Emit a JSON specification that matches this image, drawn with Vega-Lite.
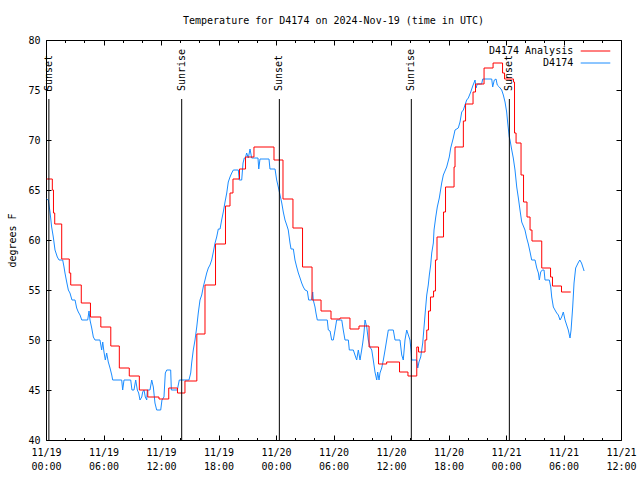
{
  "$schema": "https://vega.github.io/schema/vega-lite/v6.json",
  "width": 575,
  "height": 400,
  "autosize": "none",
  "padding": {"left": 46, "top": 40, "right": 19, "bottom": 40},
  "background": "white",
  "title": {"text": "Temperature for D4174 on 2024-Nov-19 (time in UTC)", "font": "DejaVu Sans Mono", "fontSize": 10, "fontWeight": "normal", "color": "black", "anchor": "middle", "offset": 9},
  "config": {
    "view": {"stroke": "black", "strokeWidth": 1},
    "axis": {"domain": false, "grid": false, "tickColor": "black", "labelColor": "black", "labelFont": "DejaVu Sans Mono", "labelFontSize": 10, "titleFont": "DejaVu Sans Mono", "titleFontSize": 10, "titleFontWeight": "normal", "titleColor": "black", "tickSize": -5}
  },
  "datasets": {
    "obs": [
      {"hour":0.07,"temp":64.1},{"hour":0.24,"temp":64.0},{"hour":0.42,"temp":62.8},{"hour":0.59,"temp":61.3},{"hour":0.76,"temp":60.3},{"hour":0.94,"temp":59.0},{"hour":1.18,"temp":58.3},{"hour":1.36,"temp":58.0},{"hour":1.74,"temp":58.0},{"hour":1.88,"temp":57.3},{"hour":1.98,"temp":56.7},{"hour":2.16,"temp":55.8},{"hour":2.33,"temp":55.0},{"hour":2.5,"temp":54.7},{"hour":2.71,"temp":54.0},{"hour":3.03,"temp":54.0},{"hour":3.2,"temp":53.2},{"hour":3.37,"temp":52.8},{"hour":3.55,"temp":52.5},{"hour":3.73,"temp":52.0},{"hour":4.35,"temp":52.0},{"hour":4.49,"temp":52.9},{"hour":4.59,"temp":52.0},{"hour":4.77,"temp":51.2},{"hour":4.94,"temp":50.3},{"hour":5.11,"temp":50.0},{"hour":5.63,"temp":50.0},{"hour":5.81,"temp":49.0},{"hour":5.92,"temp":49.8},{"hour":6.05,"temp":48.8},{"hour":6.19,"temp":48.0},{"hour":6.33,"temp":48.7},{"hour":6.5,"temp":47.8},{"hour":6.68,"temp":47.2},{"hour":6.86,"temp":46.5},{"hour":6.96,"temp":46.0},{"hour":7.9,"temp":46.0},{"hour":8.0,"temp":45.0},{"hour":8.14,"temp":46.0},{"hour":8.84,"temp":46.0},{"hour":8.97,"temp":45.0},{"hour":9.18,"temp":45.0},{"hour":9.36,"temp":46.0},{"hour":9.53,"temp":45.0},{"hour":9.67,"temp":44.7},{"hour":9.81,"temp":44.0},{"hour":9.99,"temp":44.3},{"hour":10.09,"temp":44.8},{"hour":10.23,"temp":45.0},{"hour":10.36,"temp":44.3},{"hour":10.51,"temp":44.0},{"hour":10.57,"temp":45.0},{"hour":10.85,"temp":45.0},{"hour":11.03,"temp":46.0},{"hour":11.2,"temp":45.3},{"hour":11.37,"temp":43.7},{"hour":11.55,"temp":43.0},{"hour":11.97,"temp":43.0},{"hour":12.1,"temp":44.0},{"hour":12.31,"temp":44.3},{"hour":12.45,"temp":46.7},{"hour":12.6,"temp":47.0},{"hour":13.01,"temp":47.0},{"hour":13.08,"temp":45.0},{"hour":13.7,"temp":45.0},{"hour":13.91,"temp":46.0},{"hour":14.92,"temp":46.0},{"hour":15.1,"temp":46.7},{"hour":15.2,"temp":47.7},{"hour":15.37,"temp":49.0},{"hour":15.55,"temp":50.0},{"hour":15.73,"temp":51.3},{"hour":15.89,"temp":52.7},{"hour":16.07,"temp":54.0},{"hour":16.25,"temp":54.5},{"hour":16.41,"temp":55.3},{"hour":16.59,"temp":56.0},{"hour":16.77,"temp":56.7},{"hour":16.94,"temp":57.2},{"hour":17.11,"temp":57.5},{"hour":17.29,"temp":58.0},{"hour":17.46,"temp":58.8},{"hour":17.64,"temp":59.7},{"hour":17.81,"temp":60.3},{"hour":17.98,"temp":61.1},{"hour":18.16,"temp":61.1},{"hour":18.33,"temp":62.0},{"hour":18.5,"temp":62.8},{"hour":18.68,"temp":63.8},{"hour":18.86,"temp":64.7},{"hour":19.02,"temp":65.8},{"hour":19.2,"temp":66.3},{"hour":19.38,"temp":66.7},{"hour":19.55,"temp":67.0},{"hour":20.07,"temp":67.0},{"hour":20.17,"temp":66.0},{"hour":20.42,"temp":66.0},{"hour":20.56,"temp":67.7},{"hour":20.69,"temp":68.2},{"hour":20.8,"temp":68.2},{"hour":20.94,"temp":68.7},{"hour":21.11,"temp":68.2},{"hour":21.29,"temp":69.1},{"hour":21.46,"temp":68.2},{"hour":21.63,"temp":68.2},{"hour":22.12,"temp":68.2},{"hour":22.2,"temp":67.1},{"hour":22.33,"temp":68.1},{"hour":23.27,"temp":68.1},{"hour":23.37,"temp":67.1},{"hour":23.9,"temp":67.1},{"hour":24.07,"temp":66.0},{"hour":24.24,"temp":65.3},{"hour":24.42,"temp":64.5},{"hour":24.6,"temp":63.7},{"hour":24.76,"temp":62.8},{"hour":24.94,"temp":62.0},{"hour":25.12,"temp":61.5},{"hour":25.28,"temp":61.0},{"hour":25.46,"temp":59.7},{"hour":25.57,"temp":59.1},{"hour":25.81,"temp":59.1},{"hour":25.98,"temp":58.0},{"hour":26.16,"temp":57.3},{"hour":26.33,"temp":56.7},{"hour":26.51,"temp":56.2},{"hour":26.68,"temp":55.7},{"hour":26.85,"temp":55.3},{"hour":27.03,"temp":55.0},{"hour":27.27,"temp":54.9},{"hour":27.41,"temp":54.0},{"hour":27.73,"temp":54.0},{"hour":27.83,"temp":54.8},{"hour":27.89,"temp":54.0},{"hour":28.07,"temp":53.3},{"hour":28.17,"temp":52.7},{"hour":28.31,"temp":52.0},{"hour":29.35,"temp":52.0},{"hour":29.46,"temp":51.0},{"hour":29.64,"temp":50.9},{"hour":29.81,"temp":50.0},{"hour":29.98,"temp":50.0},{"hour":30.16,"temp":51.0},{"hour":30.33,"temp":52.0},{"hour":30.86,"temp":52.0},{"hour":31.02,"temp":51.0},{"hour":31.2,"temp":50.0},{"hour":31.55,"temp":50.0},{"hour":31.65,"temp":49.0},{"hour":32.07,"temp":49.0},{"hour":32.24,"temp":48.5},{"hour":32.42,"temp":48.0},{"hour":32.59,"temp":49.0},{"hour":32.77,"temp":48.0},{"hour":32.94,"temp":49.0},{"hour":33.05,"temp":49.7},{"hour":33.18,"temp":50.7},{"hour":33.29,"temp":52.0},{"hour":33.47,"temp":51.3},{"hour":33.63,"temp":50.0},{"hour":33.81,"temp":49.3},{"hour":33.99,"temp":49.0},{"hour":34.15,"temp":48.0},{"hour":34.33,"temp":46.8},{"hour":34.51,"temp":46.0},{"hour":34.61,"temp":46.8},{"hour":34.75,"temp":46.0},{"hour":34.85,"temp":46.7},{"hour":35.03,"temp":47.2},{"hour":35.2,"temp":48.0},{"hour":35.38,"temp":49.0},{"hour":35.55,"temp":50.0},{"hour":35.72,"temp":51.0},{"hour":36.24,"temp":51.0},{"hour":36.42,"temp":50.0},{"hour":36.94,"temp":50.0},{"hour":37.12,"temp":48.5},{"hour":37.28,"temp":48.0},{"hour":37.46,"temp":50.0},{"hour":37.64,"temp":51.0},{"hour":37.81,"temp":50.5},{"hour":37.98,"temp":50.0},{"hour":38.09,"temp":49.0},{"hour":38.16,"temp":48.0},{"hour":38.68,"temp":48.0},{"hour":38.79,"temp":47.2},{"hour":38.92,"temp":47.8},{"hour":39.1,"temp":48.3},{"hour":39.31,"temp":49.7},{"hour":39.44,"temp":51.2},{"hour":39.62,"temp":53.3},{"hour":39.73,"temp":54.5},{"hour":39.89,"temp":55.5},{"hour":40.0,"temp":56.5},{"hour":40.14,"temp":57.5},{"hour":40.25,"temp":58.7},{"hour":40.42,"temp":59.7},{"hour":40.49,"temp":61.0},{"hour":40.67,"temp":62.3},{"hour":40.83,"temp":63.3},{"hour":41.04,"temp":64.2},{"hour":41.29,"temp":65.7},{"hour":41.46,"temp":66.5},{"hour":41.81,"temp":67.3},{"hour":42.08,"temp":68.3},{"hour":42.23,"temp":69.2},{"hour":42.5,"temp":70.2},{"hour":42.68,"temp":71.0},{"hour":43.02,"temp":71.2},{"hour":43.2,"temp":71.8},{"hour":43.38,"temp":72.8},{"hour":43.55,"temp":73.0},{"hour":43.72,"temp":73.5},{"hour":43.9,"temp":74.0},{"hour":44.07,"temp":74.2},{"hour":44.32,"temp":74.8},{"hour":44.53,"temp":75.4},{"hour":44.77,"temp":76.0},{"hour":44.87,"temp":75.2},{"hour":45.01,"temp":75.6},{"hour":45.46,"temp":75.6},{"hour":45.57,"temp":76.1},{"hour":46.51,"temp":76.1},{"hour":46.61,"temp":75.3},{"hour":46.78,"temp":76.0},{"hour":46.96,"temp":76.1},{"hour":47.09,"temp":75.5},{"hour":47.3,"temp":75.3},{"hour":47.55,"temp":75.0},{"hour":47.72,"temp":74.5},{"hour":47.9,"temp":73.8},{"hour":48.07,"temp":72.8},{"hour":48.18,"temp":71.7},{"hour":48.34,"temp":70.3},{"hour":48.42,"temp":70.0},{"hour":48.6,"temp":69.0},{"hour":48.76,"temp":68.2},{"hour":48.94,"temp":67.0},{"hour":49.12,"temp":65.3},{"hour":49.29,"temp":64.2},{"hour":49.46,"temp":63.0},{"hour":49.64,"temp":61.8},{"hour":49.81,"temp":61.4},{"hour":49.98,"temp":61.0},{"hour":50.16,"temp":60.2},{"hour":50.33,"temp":59.6},{"hour":50.51,"temp":58.8},{"hour":50.68,"temp":58.0},{"hour":51.03,"temp":58.0},{"hour":51.21,"temp":57.2},{"hour":51.38,"temp":56.7},{"hour":51.48,"temp":56.0},{"hour":51.62,"temp":56.8},{"hour":51.79,"temp":57.0},{"hour":51.97,"temp":57.0},{"hour":52.07,"temp":56.0},{"hour":52.52,"temp":56.0},{"hour":52.67,"temp":55.3},{"hour":52.77,"temp":54.3},{"hour":52.94,"temp":53.3},{"hour":53.11,"temp":53.0},{"hour":53.29,"temp":52.7},{"hour":53.46,"temp":52.5},{"hour":53.64,"temp":52.0},{"hour":53.81,"temp":52.3},{"hour":53.98,"temp":52.8},{"hour":54.16,"temp":52.0},{"hour":54.33,"temp":51.5},{"hour":54.5,"temp":51.0},{"hour":54.68,"temp":50.2},{"hour":54.79,"temp":51.0},{"hour":54.96,"temp":53.3},{"hour":55.1,"temp":55.7},{"hour":55.27,"temp":57.2},{"hour":55.52,"temp":57.7},{"hour":55.7,"temp":58.0},{"hour":55.88,"temp":57.7},{"hour":56.05,"temp":57.2},{"hour":56.15,"temp":56.9}
    ],
    "analysis": [
      {"hour":0.07,"temp":66.1},{"hour":0.66,"temp":65.0},{"hour":0.78,"temp":62.7},{"hour":0.91,"temp":61.6},{"hour":1.64,"temp":58.1},{"hour":2.43,"temp":56.7},{"hour":2.58,"temp":55.5},{"hour":3.68,"temp":53.7},{"hour":4.64,"temp":52.3},{"hour":5.72,"temp":51.3},{"hour":6.76,"temp":49.4},{"hour":7.65,"temp":47.2},{"hour":8.69,"temp":46.4},{"hour":9.74,"temp":45.0},{"hour":10.62,"temp":44.3},{"hour":11.79,"temp":44.1},{"hour":12.81,"temp":45.2},{"hour":13.72,"temp":44.7},{"hour":14.5,"temp":45.9},{"hour":15.74,"temp":50.6},{"hour":16.59,"temp":55.5},{"hour":17.69,"temp":59.6},{"hour":18.73,"temp":63.4},{"hour":19.2,"temp":64.7},{"hour":19.51,"temp":66.1},{"hour":20.19,"temp":67.1},{"hour":20.82,"temp":68.3},{"hour":21.7,"temp":69.3},{"hour":23.79,"temp":68.0},{"hour":24.73,"temp":64.1},{"hour":25.77,"temp":61.2},{"hour":26.77,"temp":57.3},{"hour":27.76,"temp":54.0},{"hour":28.7,"temp":52.9},{"hour":29.74,"temp":52.1},{"hour":30.68,"temp":52.2},{"hour":31.72,"temp":51.1},{"hour":32.66,"temp":51.4},{"hour":33.71,"temp":49.3},{"hour":34.7,"temp":47.6},{"hour":35.55,"temp":47.8},{"hour":36.89,"temp":46.8},{"hour":37.77,"temp":46.4},{"hour":38.69,"temp":49.3},{"hour":38.87,"temp":48.8},{"hour":39.55,"temp":50.0},{"hour":39.73,"temp":51.0},{"hour":39.91,"temp":52.9},{"hour":40.12,"temp":54.3},{"hour":40.44,"temp":54.9},{"hour":40.64,"temp":58.0},{"hour":40.8,"temp":60.3},{"hour":41.48,"temp":62.8},{"hour":41.69,"temp":65.3},{"hour":42.58,"temp":67.3},{"hour":42.68,"temp":69.3},{"hour":43.55,"temp":71.9},{"hour":43.78,"temp":73.6},{"hour":44.56,"temp":74.8},{"hour":44.82,"temp":75.6},{"hour":45.71,"temp":77.2},{"hour":46.65,"temp":77.7},{"hour":47.64,"temp":76.7},{"hour":47.85,"temp":76.1},{"hour":48.78,"temp":75.8},{"hour":48.89,"temp":70.7},{"hour":49.05,"temp":69.7},{"hour":49.57,"temp":66.5},{"hour":49.83,"temp":63.8},{"hour":50.19,"temp":62.3},{"hour":50.51,"temp":61.0},{"hour":50.71,"temp":59.9},{"hour":51.73,"temp":57.2},{"hour":52.65,"temp":56.3},{"hour":52.85,"temp":55.4},{"hour":53.79,"temp":54.8},{"hour":54.75,"temp":54.8}
    ],
    "sun": [
      {"hour":0.3,"event":"Sunset"},{"hour":14.16,"event":"Sunrise"},{"hour":24.35,"event":"Sunset"},{"hour":38.12,"event":"Sunrise"},{"hour":48.35,"event":"Sunset"}
    ]
  },
  "layer": [
    {
      "data": {"name": "obs"},
      "mark": {"type": "line", "strokeWidth": 1, "interpolate": "linear"},
      "encoding": {
        "x": {"field": "hour", "type": "quantitative", "scale": {"domain": [0, 60], "nice": false, "zero": false},
              "axis": {"orient": "bottom", "values": [0,6,12,18,24,30,36,42,48,54,60], "title": null, "labelExpr": "['11/' + (19 + floor(datum.value/24)), (datum.value % 24 < 10 ? '0' : '') + (datum.value % 24) + ':00']", "labelLineHeight": 14, "labelPadding": 12, "labelFlush": false, "labelOverlap": false}},
        "y": {"field": "temp", "type": "quantitative", "scale": {"domain": [40, 80], "nice": false, "zero": false},
              "axis": {"orient": "left", "values": [40,45,50,55,60,65,70,75,80], "title": "degrees F", "titleX": -34, "titleBaseline": "middle", "labelPadding": 11}},
        "color": {"datum": "D4174", "type": "nominal",
                  "scale": {"domain": ["D4174 Analysis", "D4174"], "range": ["#ff0000", "#1a8cff"]},
                  "legend": {"orient": "none", "legendX": 544.5, "legendY": 6, "title": null, "symbolType": "M-5,0H5", "symbolSize": 35, "symbolStrokeWidth": 1, "symbolFillColor": "transparent", "labelAlign": "right", "labelBaseline": "middle", "labelOffset": -27.3, "labelFont": "DejaVu Sans Mono", "labelFontSize": 10, "labelColor": "black", "padding": 0, "rowPadding": 2}}
      }
    },
    {
      "data": {"name": "analysis"},
      "mark": {"type": "line", "strokeWidth": 1, "interpolate": "step-after"},
      "encoding": {
        "x": {"field": "hour", "type": "quantitative", "scale": {"domain": [0, 60], "nice": false, "zero": false},
              "axis": {"orient": "top", "values": [0,6,12,18,24,30,36,42,48,54,60], "title": null, "labels": false}},
        "y": {"field": "temp", "type": "quantitative", "scale": {"domain": [40, 80], "nice": false, "zero": false},
              "axis": {"orient": "right", "values": [40,45,50,55,60,65,70,75,80], "title": null, "labels": false}},
        "color": {"datum": "D4174 Analysis", "type": "nominal"}
      }
    },
    {
      "data": {"name": "sun"},
      "mark": {"type": "rule", "color": "black", "strokeWidth": 1},
      "encoding": {
        "x": {"field": "hour", "type": "quantitative", "scale": {"domain": [0, 60], "nice": false, "zero": false},
              "axis": {"orient": "bottom", "values": [2,4,8,10,14,16,20,22,26,28,32,34,38,40,44,46,50,52,56,58], "title": null, "labels": false, "tickSize": -2.5}},
        "y": {"datum": 74.1, "type": "quantitative", "axis": null},
        "y2": {"datum": 40}
      }
    },
    {
      "data": {"name": "sun"},
      "mark": {"type": "text", "angle": 270, "align": "left", "baseline": "middle", "font": "DejaVu Sans Mono", "fontSize": 10, "color": "black", "dx": 0},
      "encoding": {
        "x": {"field": "hour", "type": "quantitative", "scale": {"domain": [0, 60], "nice": false, "zero": false},
              "axis": {"orient": "top", "values": [2,4,8,10,14,16,20,22,26,28,32,34,38,40,44,46,50,52,56,58], "title": null, "labels": false, "tickSize": -2.5}},
        "y": {"datum": 74.9, "type": "quantitative", "axis": null},
        "text": {"field": "event"}
      }
    }
  ],
  "resolve": {"axis": {"x": "independent", "y": "independent"}}
}
